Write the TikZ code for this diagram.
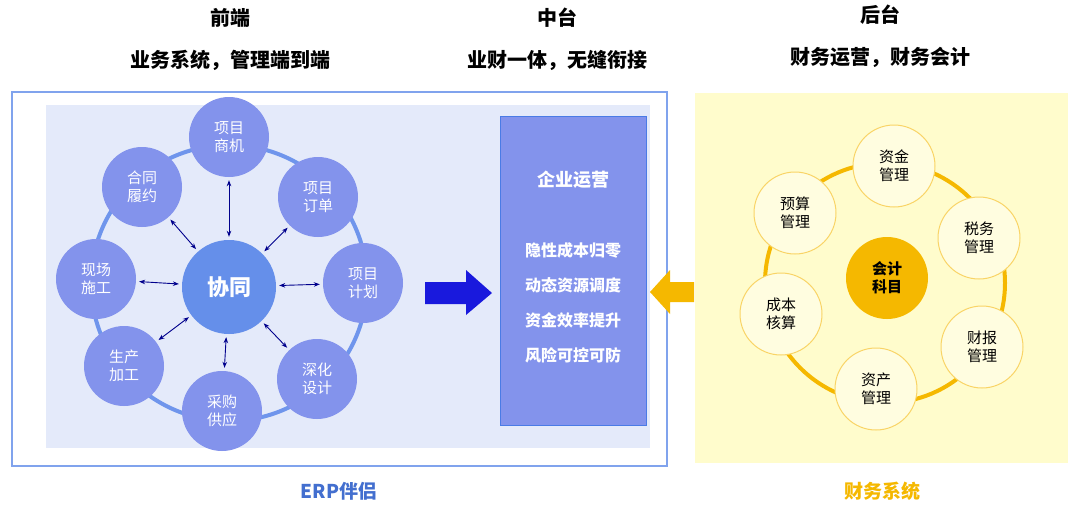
\documentclass[tikz,border=0pt]{standalone}
\usepackage{fontspec}
\setmainfont{Noto Sans CJK SC}
\usetikzlibrary{arrows.meta}
\definecolor{bl}{HTML}{8393EC}
\definecolor{bldark}{HTML}{4A7BE6}
\definecolor{panel}{HTML}{E4EAFA}
\definecolor{ring}{HTML}{6F95EC}
\definecolor{yl}{HTML}{F5B800}
\tikzset{
 sat/.style={circle,minimum size=80pt,inner sep=0pt,fill=bl,text=white,font=\fontsize{15}{18}\selectfont,align=center},
 ysat/.style={circle,minimum size=82pt,inner sep=0pt,fill=yellow!12,draw=yl!60,line width=1pt,font=\fontsize{15}{18}\selectfont,align=center},
 lnk/.style={{Stealth[length=6pt]}-{Stealth[length=6pt]},draw=blue!55!black,line width=0.9pt,shorten >=3pt,shorten <=3pt},
 head/.style={font=\bfseries\fontsize{20}{22}\selectfont},
}
\begin{document}
\begin{tikzpicture}[x=1pt,y=-1pt]
\useasboundingbox (0,0) rectangle (1080,509);
\fill[white] (0,0) rectangle (1080,509);
% headings
\node[head] (h1) at (230,18) {前端};
\node[head] (h1b) at (230,60) {业务系统，管理端到端};
\node[head] (h2) at (557,18) {中台};
\node[head] (h2b) at (557,60) {业财一体，无缝衔接};
\node[head] (h3) at (880,15) {后台};
\node[head] (h3b) at (880,57) {财务运营，财务会计};
% left frame
\draw[draw=bldark!70,line width=2pt] (12,92) rectangle (667,466);
\fill[panel] (46,105) rectangle (650,448);
\draw[ring,line width=4pt] (229,283) circle[radius=138];
\node[sat] (a1) at (229,137) {项目\\商机};
\node[sat] (a2) at (318,197) {项目\\订单};
\node[sat] (a3) at (363,283) {项目\\计划};
\node[sat] (a4) at (317,379) {深化\\设计};
\node[sat] (a5) at (222,411) {采购\\供应};
\node[sat] (a6) at (124,366) {生产\\加工};
\node[sat] (a7) at (96,279) {现场\\施工};
\node[sat] (a8) at (142,187) {合同\\履约};
\node[circle,minimum size=94pt,fill=bldark!85,text=white,font=\bfseries\fontsize{22}{24}\selectfont] (c) at (229,287) {协同};
\foreach \i in {1,...,8} \draw[lnk] (c) -- (a\i);
% enterprise box
\node[draw=bldark,line width=1pt,fill=bl,minimum width=146pt,minimum height=309pt,inner sep=0pt] (box) at (573,270.5) {};
\node[text=white,font=\bfseries\fontsize{18}{20}\selectfont] (bt) at (573,180) {企业运营};
\node[text=white,font=\bfseries\fontsize{16}{35}\selectfont,align=center] (bl1) at (573,303) {隐性成本归零\\动态资源调度\\资金效率提升\\风险可控可防};
% arrows
\fill[blue!85!black!90] (425,282)--(466,282)--(466,270)--(492,293)--(466,315)--(466,304)--(425,304)--cycle;
\fill[yl] (694,282)--(670,282)--(670,270)--(650,292)--(670,314)--(670,302)--(694,302)--cycle;
% right panel
\fill[yellow!20] (695,93) rectangle (1068,463);
\draw[yl,line width=4pt] (885,283) circle[radius=120];
\node[ysat] (b1) at (894,166) {资金\\管理};
\node[ysat] (b2) at (979,238) {税务\\管理};
\node[ysat] (b3) at (982,347) {财报\\管理};
\node[ysat] (b4) at (876,389) {资产\\管理};
\node[ysat] (b5) at (781,314) {成本\\核算};
\node[ysat] (b6) at (795,213) {预算\\管理};
\node[circle,minimum size=82pt,fill=yl,align=center,font=\bfseries\fontsize{15}{18}\selectfont] (yc) at (887,278) {会计\\科目};
% bottom labels
\node[text=bldark!90!black,font=\bfseries\fontsize{19}{21}\selectfont] (l1) at (339,491) {ERP伴侣};
\node[text=yl,font=\bfseries\fontsize{19}{21}\selectfont] (l2) at (882,491) {财务系统};
\end{tikzpicture}
\end{document}
